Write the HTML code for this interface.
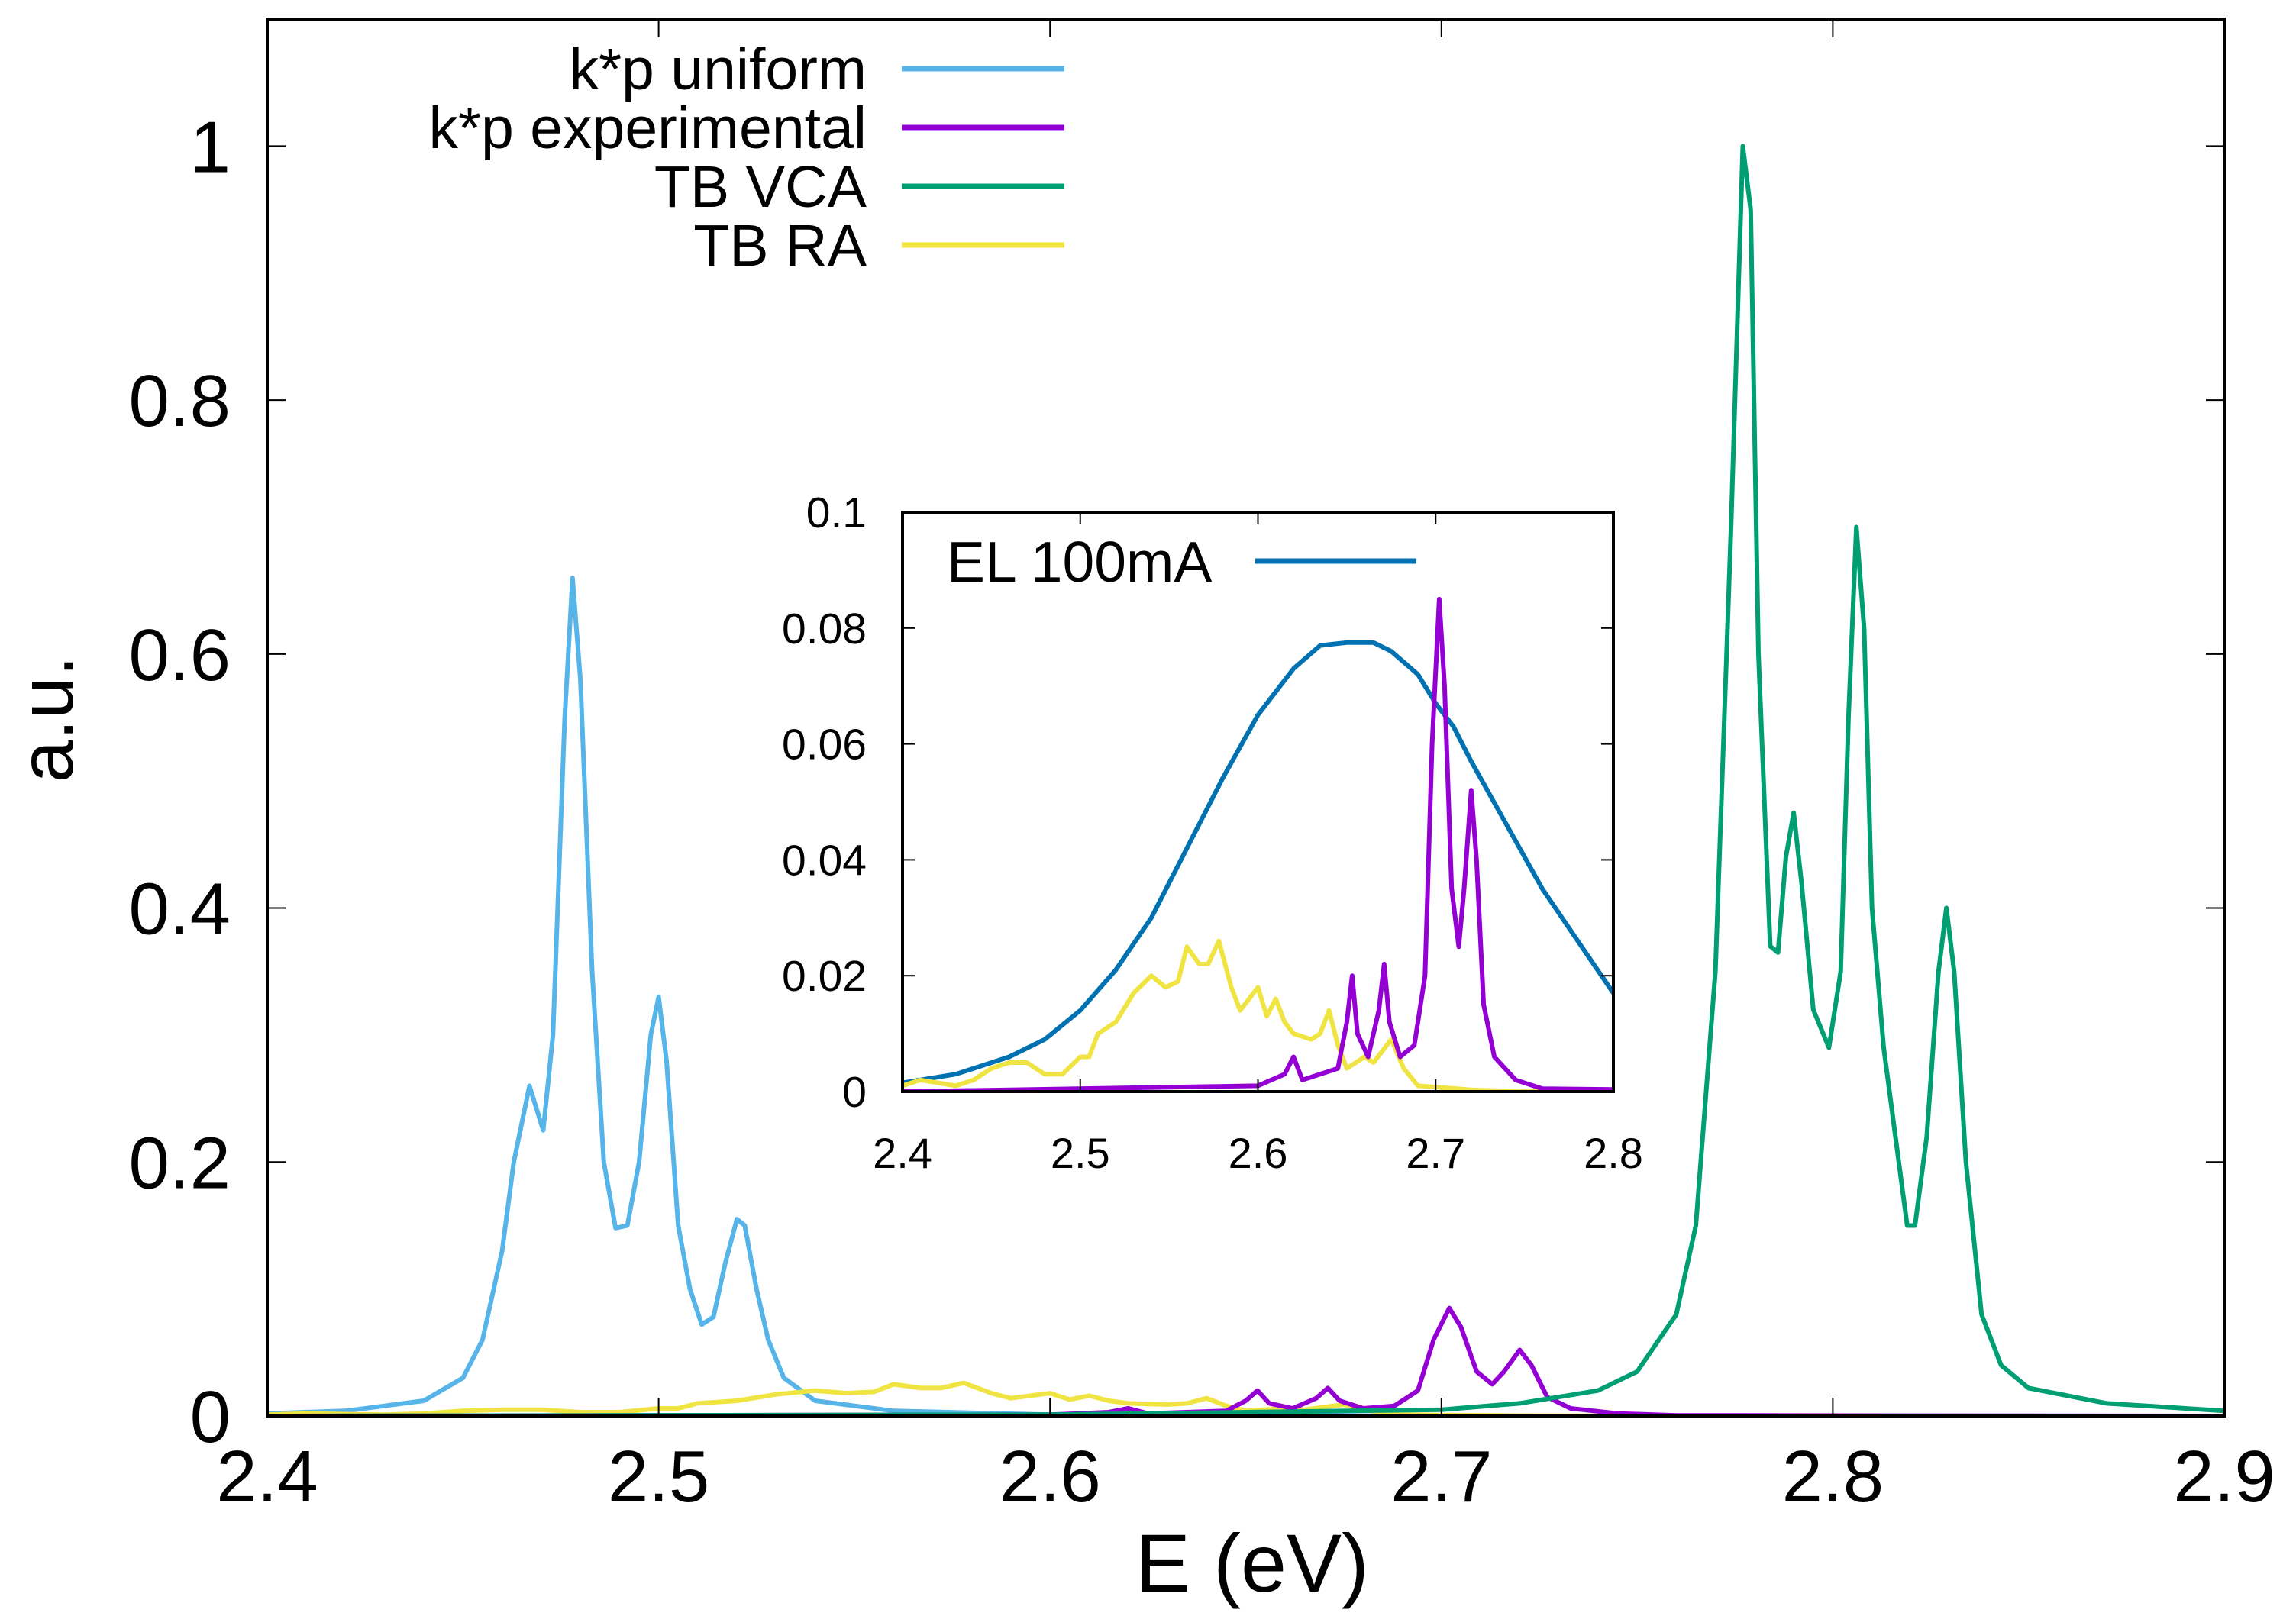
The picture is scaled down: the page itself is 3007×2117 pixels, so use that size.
<!DOCTYPE html>
<html><head><meta charset="utf-8"><style>
html,body{margin:0;padding:0;background:#fff}
svg{display:block;font-family:"Liberation Sans",sans-serif}
</style></head><body>
<svg id="chart" width="3007" height="2117" viewBox="0 0 3007 2117" xmlns="http://www.w3.org/2000/svg">
<rect width="3007" height="2117" fill="#fff"/>
<g id="main"></g>
<g id="inset"></g>
</svg>
<script>
// ---- main chart data ----
const mainXTicks = [2.4, 2.5, 2.6, 2.7, 2.8, 2.9];
const mainXTickLabels = ["2.4", "2.5", "2.6", "2.7", "2.8", "2.9"];
const mainYTicks = [0, 0.2, 0.4, 0.6, 0.8, 1];
const mainYTickLabels = ["0", "0.2", "0.4", "0.6", "0.8", "1"];

const kpUniformX = [2.40,2.42,2.44,2.45,2.455,2.46,2.463,2.467,2.4705,2.473,2.476,2.478,2.480,2.483,2.486,2.489,2.492,2.495,2.498,2.500,2.502,2.505,2.508,2.511,2.514,2.517,2.520,2.522,2.525,2.528,2.532,2.54,2.56,2.6,2.7,2.9];
const kpUniformY = [0.002,0.004,0.012,0.03,0.06,0.13,0.2,0.26,0.225,0.3,0.55,0.66,0.58,0.35,0.2,0.148,0.15,0.2,0.3,0.33,0.28,0.15,0.1,0.072,0.078,0.12,0.155,0.15,0.1,0.06,0.03,0.012,0.004,0.001,0,0];

const kpExpX = [2.4,2.6,2.615,2.62,2.625,2.645,2.650,2.653,2.656,2.662,2.668,2.671,2.674,2.68,2.688,2.694,2.698,2.702,2.705,2.709,2.713,2.716,2.720,2.723,2.727,2.733,2.745,2.76,2.9];
const kpExpY = [0,0.001,0.003,0.006,0.002,0.004,0.012,0.02,0.01,0.006,0.014,0.022,0.012,0.006,0.008,0.02,0.06,0.085,0.07,0.035,0.025,0.035,0.052,0.04,0.015,0.006,0.002,0.0005,0];

const tbVcaX = [2.4,2.6,2.7,2.72,2.74,2.75,2.76,2.765,2.77,2.774,2.777,2.779,2.781,2.784,2.786,2.788,2.790,2.792,2.795,2.799,2.802,2.804,2.806,2.808,2.810,2.813,2.816,2.819,2.821,2.824,2.827,2.829,2.831,2.834,2.838,2.843,2.85,2.87,2.9];
const tbVcaY = [0,0.001,0.005,0.01,0.02,0.035,0.08,0.15,0.35,0.7,1.0,0.95,0.6,0.37,0.365,0.44,0.475,0.42,0.32,0.29,0.35,0.55,0.70,0.62,0.4,0.29,0.22,0.15,0.15,0.22,0.35,0.40,0.35,0.2,0.08,0.04,0.022,0.01,0.004];

const tbRaX = [2.4,2.41,2.42,2.43,2.44,2.45,2.46,2.47,2.48,2.49,2.5,2.505,2.51,2.52,2.53,2.54,2.548,2.555,2.56,2.567,2.572,2.578,2.585,2.59,2.6,2.605,2.61,2.615,2.62,2.63,2.635,2.64,2.645,2.65,2.66,2.665,2.675,2.682,2.69,2.72,2.75,2.9];
const tbRaY = [0.001,0.002,0.0015,0.001,0.002,0.004,0.005,0.005,0.003,0.003,0.006,0.006,0.010,0.012,0.017,0.02,0.018,0.019,0.025,0.022,0.022,0.026,0.018,0.014,0.018,0.013,0.016,0.012,0.01,0.009,0.01,0.014,0.008,0.004,0.006,0.005,0.009,0.004,0.001,0.0003,0,0];

// ---- inset data ----
const insetXTicks = [2.4, 2.5, 2.6, 2.7, 2.8];
const insetXTickLabels = ["2.4", "2.5", "2.6", "2.7", "2.8"];
const insetYTicks = [0, 0.02, 0.04, 0.06, 0.08, 0.1];
const insetYTickLabels = ["0", "0.02", "0.04", "0.06", "0.08", "0.1"];
const elX = [2.4,2.43,2.46,2.48,2.5,2.52,2.54,2.56,2.58,2.6,2.62,2.635,2.65,2.665,2.675,2.69,2.7,2.71,2.72,2.74,2.76,2.78,2.8];
const elY = [0.0015,0.003,0.006,0.009,0.014,0.021,0.03,0.042,0.054,0.065,0.073,0.077,0.0775,0.0775,0.076,0.072,0.067,0.063,0.057,0.046,0.035,0.026,0.017];

const NS = "http://www.w3.org/2000/svg";
function mk(tag, parent, attrs) {
  const e = document.createElementNS(NS, tag);
  for (const k in attrs) e.setAttribute(k, attrs[k]);
  parent.appendChild(e);
  return e;
}
function axis(d0, d1, r0, r1) { return v => r0 + (v - d0) / (d1 - d0) * (r1 - r0); }

// main
const gm = document.getElementById('main');
const L = 350, R = 2913, T = 25, B = 1855;
const mx = axis(2.4, 2.9, L, R), my = axis(0, 1.1, B, T);
const clipM = mk('clipPath', gm, {id: 'clipm'});
mk('rect', clipM, {x: L, y: T, width: R - L, height: B - T});

function drawSeries(g, xs, ys, fx, fy, color, name, clip, w) {
  let d = '';
  for (let i = 0; i < xs.length; i++) d += (i ? 'L' : 'M') + fx(xs[i]).toFixed(1) + ',' + fy(ys[i]).toFixed(1);
  const p = mk('path', g, {d: d, fill: 'none', stroke: color, 'stroke-width': w, 'stroke-linejoin': 'round', 'clip-path': 'url(#' + clip + ')'});
  
  
}
drawSeries(gm, kpUniformX, kpUniformY, mx, my, '#56b4e9', 'kp-uniform-line', 'clipm', 6);
drawSeries(gm, tbRaX, tbRaY, mx, my, '#f0e442', 'tb-ra-line', 'clipm', 6);
drawSeries(gm, kpExpX, kpExpY, mx, my, '#9400d3', 'kp-experimental-line', 'clipm', 6);
drawSeries(gm, tbVcaX, tbVcaY, mx, my, '#009e73', 'tb-vca-line', 'clipm', 6);

mainXTicks.forEach((v, i) => {
  const x = mx(v);
  const t1 = mk('line', gm, {x1: x, x2: x, y1: B, y2: B - 24, stroke: '#000', 'stroke-width': 2});
   
  const t2 = mk('line', gm, {x1: x, x2: x, y1: T, y2: T + 24, stroke: '#000', 'stroke-width': 2});
   
  const tx = mk('text', gm, {x: x, y: 1967, 'font-size': 96, 'text-anchor': 'middle'});
  tx.textContent = mainXTickLabels[i];
   
});
mainYTicks.forEach((v, i) => {
  const y = my(v);
  const t1 = mk('line', gm, {x1: L, x2: L + 24, y1: y, y2: y, stroke: '#000', 'stroke-width': 2});
   
  const t2 = mk('line', gm, {x1: R, x2: R - 24, y1: y, y2: y, stroke: '#000', 'stroke-width': 2});
   
  const tx = mk('text', gm, {x: 302, y: y + 34, 'font-size': 96, 'text-anchor': 'end'});
  tx.textContent = mainYTickLabels[i];
   
});
const fr = mk('rect', gm, {x: L, y: T, width: R - L, height: B - T, fill: 'none', stroke: '#000', 'stroke-width': 4});
 
const xt = mk('text', gm, {x: 1640, y: 2085, 'font-size': 108, 'text-anchor': 'middle'});
xt.textContent = 'E (eV)';
 
const yt = mk('text', gm, {x: 0, y: 0, 'font-size': 100, 'text-anchor': 'middle', transform: 'translate(95,942) rotate(-90)'});
yt.textContent = 'a.u.';
 

const legend = [['k*p uniform', '#56b4e9'], ['k*p experimental', '#9400d3'], ['TB VCA', '#009e73'], ['TB RA', '#f0e442']];
legend.forEach((l, i) => {
  const y = 90 + i * 77;
  const tx = mk('text', gm, {x: 1135, y: y + 27, 'font-size': 77, 'text-anchor': 'end'});
  tx.textContent = l[0];
   
  const ln = mk('line', gm, {x1: 1181, x2: 1394, y1: y, y2: y, stroke: l[1], 'stroke-width': 7});
   
});

// inset
const gi = document.getElementById('inset');
const IL = 1182, IR = 2113, IT = 671, IB = 1430;
const ix = axis(2.4, 2.8, IL, IR), iy = axis(0, 0.1, IB, IT);
const bg = mk('rect', gi, {x: IL, y: IT, width: IR - IL, height: IB - IT, fill: '#fff'});
 
const clipI = mk('clipPath', gi, {id: 'clipi'});
mk('rect', clipI, {x: IL, y: IT, width: IR - IL, height: IB - IT});
drawSeries(gi, elX, elY, ix, iy, '#0072b2', 'el-100ma-line', 'clipi', 6);
drawSeries(gi, tbRaX, tbRaY, ix, iy, '#f0e442', 'inset-tb-ra-line', 'clipi', 6);
drawSeries(gi, kpExpX, kpExpY, ix, iy, '#9400d3', 'inset-kp-experimental-line', 'clipi', 6);
insetXTicks.forEach((v, i) => {
  const x = ix(v);
  const t1 = mk('line', gi, {x1: x, x2: x, y1: IB, y2: IB - 16, stroke: '#000', 'stroke-width': 2});
   
  const t2 = mk('line', gi, {x1: x, x2: x, y1: IT, y2: IT + 16, stroke: '#000', 'stroke-width': 2});
   
  const tx = mk('text', gi, {x: x, y: 1530, 'font-size': 56, 'text-anchor': 'middle'});
  tx.textContent = insetXTickLabels[i];
   
});
insetYTicks.forEach((v, i) => {
  const y = iy(v);
  const t1 = mk('line', gi, {x1: IL, x2: IL + 16, y1: y, y2: y, stroke: '#000', 'stroke-width': 2});
   
  const t2 = mk('line', gi, {x1: IR, x2: IR - 16, y1: y, y2: y, stroke: '#000', 'stroke-width': 2});
   
  const tx = mk('text', gi, {x: 1135, y: y + 20, 'font-size': 57, 'text-anchor': 'end'});
  tx.textContent = insetYTickLabels[i];
   
});
const ifr = mk('rect', gi, {x: IL, y: IT, width: IR - IL, height: IB - IT, fill: 'none', stroke: '#000', 'stroke-width': 4});
 
const il = mk('text', gi, {x: 1240, y: 762, 'font-size': 75});
il.textContent = 'EL 100mA';
 
const ils = mk('line', gi, {x1: 1644, x2: 1855, y1: 735, y2: 735, stroke: '#0072b2', 'stroke-width': 7});
 
</script>
</body></html>
